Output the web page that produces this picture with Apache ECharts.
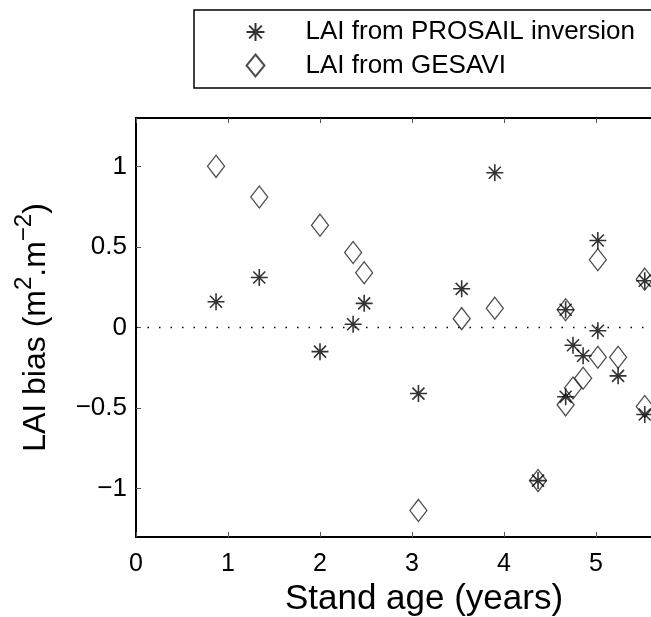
<!DOCTYPE html>
<html>
<head>
<meta charset="utf-8">
<script src="https://cdn.jsdelivr.net/npm/echarts@6.0.0/dist/echarts.min.js"></script>
<style>
  html, body { margin: 0; padding: 0; background: #fff; }
  #lai { width: 651px; height: 617px; }
</style>
</head>
<body>
<div id="lai"></div>
<script>
// stand age of each plot, shared by both estimates
var standAge = [0.87, 1.34, 2.0, 2.36, 2.48, 3.07, 3.54, 3.9, 4.37, 4.67, 4.67, 4.75, 4.86, 5.02, 5.02, 5.24, 5.53, 5.53];
var biasProsail = [0.16, 0.31, -0.15, 0.02, 0.15, -0.41, 0.24, 0.96, -0.95, 0.11, -0.43, -0.11, -0.175, 0.54, -0.02, -0.30, 0.29, -0.54];
var biasGesavi = [1.0, 0.81, 0.635, 0.465, 0.34, -1.135, 0.055, 0.12, -0.95, 0.11, -0.48, -0.375, -0.315, 0.42, -0.185, -0.185, 0.30, -0.49];
var seriesNames = ['LAI from PROSAIL inversion', 'LAI from GESAVI'];
var yTicks = [-1, -0.5, 0, 0.5, 1];
var zeroLine = [[0, 0], [6, 0]];

var FONT = 'Liberation Sans, Arial, sans-serif';
var ASTERISK = 'path://M0,-10L0,10M-10,0L10,0M-7.07,-7.07L7.07,7.07M-7.07,7.07L7.07,-7.07';

function pairs(xs, ys) {
    var out = [];
    for (var i = 0; i < xs.length; i++) {
        out.push([xs[i], ys[i]]);
    }
    return out;
}

var myChart = echarts.init(document.getElementById('lai'));

var option = {
    animation: false,
    backgroundColor: '#fff',
    textStyle: { fontFamily: FONT },
    legend: {
        left: 194,
        top: 10,
        orient: 'vertical',
        selectedMode: false,
        padding: [9, 30, 9, 50],
        itemGap: 7,
        itemWidth: 18,
        itemHeight: 22,
        borderColor: '#000',
        borderWidth: 1.5,
        formatter: function (name) { return '{g|}' + name; },
        textStyle: {
            fontFamily: FONT,
            fontSize: 26,
            lineHeight: 26,
            color: '#000',
            rich: { g: { width: 36 } }
        },
        data: [
            { name: seriesNames[0], icon: ASTERISK },
            { name: seriesNames[1], icon: 'diamond' }
        ]
    },
    grid: {
        left: 136,
        top: 118,
        right: -37,
        bottom: 80,
        outerBoundsMode: 'none'
    },
    xAxis: [
        {
            type: 'value',
            min: 0,
            max: 6,
            interval: 1,
            name: 'Stand age (years)',
            nameLocation: 'middle',
            nameGap: 33,
            nameTextStyle: { fontFamily: FONT, fontSize: 35, color: '#000', padding: [0, 0, 0, 24] },
            axisLine: { onZero: false, lineStyle: { color: '#000', width: 2 } },
            axisTick: { inside: true, length: 5, lineStyle: { color: '#555', width: 1 } },
            axisLabel: { margin: 15, fontFamily: FONT, fontSize: 25, color: '#000' },
            splitLine: { show: false }
        },
        {
            type: 'value',
            position: 'top',
            min: 0,
            max: 6,
            interval: 1,
            axisLine: { onZero: false, lineStyle: { color: '#000', width: 2 } },
            axisTick: { inside: true, length: 5, lineStyle: { color: '#555', width: 1 } },
            axisLabel: { show: false },
            splitLine: { show: false }
        }
    ],
    yAxis: {
        type: 'value',
        min: -1.3,
        max: 1.3,
        name: '{n|LAI bias (m}{s|2}{n|.m}{s|\u22122}{n|)}',
        nameLocation: 'middle',
        nameGap: 84,
        nameTextStyle: {
            rich: {
                n: { fontFamily: FONT, fontSize: 32, lineHeight: 40, verticalAlign: 'bottom', color: '#000' },
                s: { fontFamily: FONT, fontSize: 24, lineHeight: 24, verticalAlign: 'top', color: '#000' }
            }
        },
        axisLine: { show: true, onZero: false, lineStyle: { color: '#000', width: 2 } },
        axisTick: { show: true, inside: true, length: 5, customValues: yTicks, lineStyle: { color: '#555', width: 1 } },
        axisLabel: {
            margin: 9,
            fontFamily: FONT,
            fontSize: 26,
            color: '#000',
            customValues: yTicks,
            formatter: function (v) { return String(v).replace('-', '\u2212'); }
        },
        splitLine: { show: false }
    },
    series: [
        {
            name: 'zero',
            type: 'line',
            data: zeroLine,
            symbol: 'none',
            silent: true,
            lineStyle: { color: '#000', width: 1.3, type: [1.5, 10] },
            z: 1
        },
        {
            name: seriesNames[0],
            type: 'scatter',
            symbol: ASTERISK,
            symbolSize: 17,
            itemStyle: { color: 'none', borderColor: '#000', borderWidth: 1.6 },
            data: pairs(standAge, biasProsail),
            z: 3
        },
        {
            name: seriesNames[1],
            type: 'scatter',
            symbol: 'diamond',
            symbolSize: [17, 22],
            itemStyle: { color: 'none', borderColor: '#222', borderWidth: 1.3 },
            data: pairs(standAge, biasGesavi),
            z: 2
        }
    ]
};

myChart.setOption(option);
</script>
</body>
</html>
